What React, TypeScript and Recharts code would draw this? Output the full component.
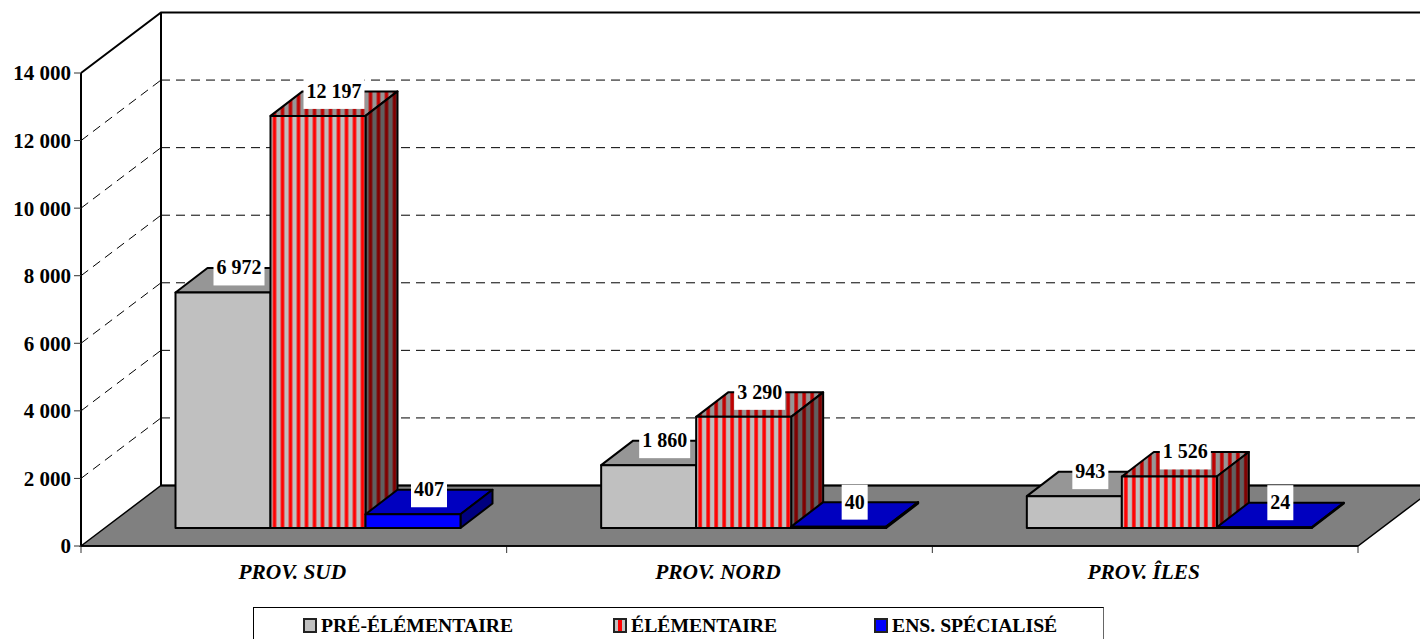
import { BarChart, Bar, XAxis, YAxis, CartesianGrid, Legend, LabelList } from 'recharts';

// Valeurs
const categories = ['PROV. SUD', 'PROV. NORD', 'PROV. ÎLES'];
const preElementaire = [6972, 1860, 943];
const elementaire = [12197, 3290, 1526];
const specialise = [407, 40, 24];
const yTicks = [0, 2000, 4000, 6000, 8000, 10000, 12000, 14000];
const seriesNames = ['PRÉ-ÉLÉMENTAIRE', 'ÉLÉMENTAIRE', 'ENS. SPÉCIALISÉ'];

const tableData = categories.map((name, i) => ({
  name,
  pre: preElementaire[i],
  elem: elementaire[i],
  spec: specialise[i],
}));

const WIDTH = 1420;
const HEIGHT = 639;
const PLOT_LEFT = 81;
const PLOT_RIGHT = 1358;
const PLOT_TOP = 73;
const PLOT_BOTTOM = 546;

// Décalage du mur du fond et de la profondeur des barres (faux 3D)
const WALL_DX = 80;
const WALL_DY = 60.5;
const BAR_DX = 24.5;
const BAR_DY = 18;
const DEPTH_X = 32;
const DEPTH_Y = 24.5;

const FONT = '"Liberation Serif", "Times New Roman", serif';

const formatNumber = (v: number) => String(v).replace(/\B(?=(\d{3})+$)/g, ' ');

const faces = {
  pre: { front: '#c0c0c0', top: '#969696', side: '#606060' },
  elem: { front: 'url(#stripeFront)', top: 'url(#stripeTop)', side: 'url(#stripeSide)' },
  spec: { front: '#0000ff', top: '#0000c0', side: '#000080' },
};

const legendFills = ['#c0c0c0', 'url(#stripeLegend)', '#0000ff'];
const legendLefts = [49, 359, 620];

const Stripes = ({ id, red, grey }: { id: string; red: string; grey: string }) => (
  <pattern id={id} patternUnits="userSpaceOnUse" width={8} height={8}>
    <rect width={8} height={8} fill={grey} />
    <rect x={2.25} width={3.5} height={8} fill={red} />
  </pattern>
);

// Barre en perspective : face avant, dessus, côté
const Box3D = (props: any) => {
  const { x, y, width, height, look } = props;
  const left = x + BAR_DX;
  const top = y - BAR_DY;
  return (
    <g transform={`translate(${left},${top})`} stroke="#000" strokeWidth={2} strokeLinejoin="round">
      <path
        d={`M0,0 L${DEPTH_X},${-DEPTH_Y} L${width + DEPTH_X},${-DEPTH_Y} L${width},0 Z`}
        fill={look.top}
      />
      <path
        d={`M${width},0 L${width + DEPTH_X},${-DEPTH_Y} L${width + DEPTH_X},${height - DEPTH_Y} L${width},${height} Z`}
        fill={look.side}
      />
      <rect width={width} height={height} fill={look.front} />
    </g>
  );
};

// Étiquette blanche au-dessus de la barre
const ValueLabel = (props: any) => {
  const { x, y, width, value } = props;
  const text = formatNumber(value);
  const cx = x + BAR_DX + width / 2 + 16;
  const top = y - BAR_DY;
  const digits = String(value).length;
  const boxW = digits * 10 + (digits > 3 ? 5 : 0) + 6;
  return (
    <g>
      <rect x={cx - boxW / 2} y={top - 42} width={boxW} height={35} fill="#fff" />
      <text
        x={cx}
        y={top - 18}
        textAnchor="middle"
        fontFamily={FONT}
        fontWeight="bold"
        fontSize={20}
        fill="#000"
      >
        {text}
      </text>
    </g>
  );
};

// Ligne de grille : diagonale sur le mur gauche puis horizontale sur le fond
const GridLine = (props: any) => {
  const { y1 } = props;
  if (y1 <= PLOT_TOP + 1 || y1 >= PLOT_BOTTOM - 1) return <g key={y1} />;
  const yBack = y1 - WALL_DY;
  return (
    <g key={y1} stroke="#000" strokeWidth={1} strokeDasharray="9 6" fill="none">
      <line x1={PLOT_LEFT} y1={y1} x2={PLOT_LEFT + WALL_DX} y2={yBack} />
      <line x1={PLOT_LEFT + WALL_DX} y1={yBack} x2={WIDTH} y2={yBack} />
    </g>
  );
};

// Sol gris, murs et graduations de l'axe des catégories
const Walls = () => {
  const backX = PLOT_LEFT + WALL_DX;
  const floorY = PLOT_BOTTOM - WALL_DY;
  const topY = PLOT_TOP - WALL_DY;
  const catW = (PLOT_RIGHT - PLOT_LEFT) / categories.length;
  return (
    <g>
      <path
        d={`M${PLOT_LEFT},${PLOT_BOTTOM} L${backX},${floorY} L${PLOT_RIGHT + WALL_DX},${floorY} L${PLOT_RIGHT},${PLOT_BOTTOM} Z`}
        fill="#808080"
        stroke="#000"
        strokeWidth={1.5}
      />
      <path
        d={`M${PLOT_LEFT},${PLOT_TOP} L${backX},${topY} L${WIDTH},${topY} M${backX},${topY} L${backX},${floorY} M${backX},${floorY} L${WIDTH},${floorY}`}
        fill="none"
        stroke="#000"
        strokeWidth={2}
      />
      {[0, 1, 2, 3].map((i) => (
        <line
          key={i}
          x1={PLOT_LEFT + i * catW}
          x2={PLOT_LEFT + i * catW}
          y1={PLOT_BOTTOM}
          y2={PLOT_BOTTOM + 7}
          stroke="#333"
          strokeWidth={1}
        />
      ))}
    </g>
  );
};

// La légende déborde du bas de l'image : pas de trait inférieur visible
const LegendBox = () => (
  <div
    style={{
      position: 'relative',
      width: 851,
      height: 40,
      marginTop: 1,
      borderTop: '1px solid #000',
      borderLeft: '1px solid #000',
      borderRight: '1px solid #666',
      boxSizing: 'border-box',
      background: '#fff',
      fontFamily: FONT,
      fontWeight: 'bold',
      fontSize: 19.7,
      color: '#000',
    }}
  >
    {seriesNames.map((label, i) => (
      <div
        key={label}
        style={{ position: 'absolute', left: legendLefts[i], top: 6, display: 'flex', alignItems: 'center', lineHeight: '22px', whiteSpace: 'nowrap' }}
      >
        <svg width={14} height={15} style={{ marginRight: 4, display: 'block' }}>
          <rect x={1} y={1} width={12} height={13} fill={legendFills[i]} stroke="#222" strokeWidth={2} />
        </svg>
        {label}
      </div>
    ))}
  </div>
);

export default function App() {
  return (
    <div style={{ position: 'absolute', left: 0, top: 0, width: WIDTH, height: HEIGHT, overflow: 'hidden', background: '#fff' }}>
      <svg width={0} height={0} style={{ position: 'absolute' }}>
        <defs>
          <Stripes id="stripeFront" red="#ff0000" grey="#c0c0c0" />
          <Stripes id="stripeTop" red="#c00000" grey="#969696" />
          <Stripes id="stripeSide" red="#800000" grey="#606060" />
          <pattern id="stripeLegend" patternUnits="userSpaceOnUse" width={14} height={14}>
            <rect width={14} height={14} fill="#c0c0c0" />
            <rect x={5} width={4} height={14} fill="#ff0000" />
          </pattern>
        </defs>
      </svg>
      <BarChart
        width={WIDTH}
        height={HEIGHT}
        data={tableData}
        barGap={0}
        barCategoryGap={70}
        margin={{ top: PLOT_TOP, right: WIDTH - PLOT_RIGHT, bottom: 0, left: 0 }}
      >
        <Walls />
        <CartesianGrid vertical={false} horizontal={GridLine} />
        <XAxis
          dataKey="name"
          height={60}
          axisLine={{ stroke: '#000', strokeWidth: 1.5 }}
          tickLine={false}
          tickMargin={12}
          tick={{ fontFamily: FONT, fontWeight: 'bold', fontStyle: 'italic', fontSize: 21.4, fill: '#000', dx: -1.5 }}
        />
        <YAxis
          width={PLOT_LEFT}
          domain={[0, 14000]}
          ticks={yTicks}
          interval={0}
          tickFormatter={formatNumber}
          axisLine={{ stroke: '#000', strokeWidth: 2 }}
          tickLine={{ stroke: '#333', strokeWidth: 1 }}
          tickSize={7}
          tick={{ fontFamily: FONT, fontWeight: 'bold', fontSize: 21, fill: '#000', dx: -1 }}
        />
        <Legend
          verticalAlign="bottom"
          height={33}
          wrapperStyle={{ left: 253, width: 851, bottom: 0 }}
          content={LegendBox}
        />
        <Bar dataKey="pre" name={seriesNames[0]} fill="#c0c0c0" isAnimationActive={false} shape={(p: any) => <Box3D {...p} look={faces.pre} />}>
          <LabelList dataKey="pre" content={ValueLabel} />
        </Bar>
        <Bar dataKey="elem" name={seriesNames[1]} fill="#ff0000" isAnimationActive={false} shape={(p: any) => <Box3D {...p} look={faces.elem} />}>
          <LabelList dataKey="elem" content={ValueLabel} />
        </Bar>
        <Bar dataKey="spec" name={seriesNames[2]} fill="#0000ff" isAnimationActive={false} shape={(p: any) => <Box3D {...p} look={faces.spec} />}>
          <LabelList dataKey="spec" content={ValueLabel} />
        </Bar>
      </BarChart>
    </div>
  );
}
